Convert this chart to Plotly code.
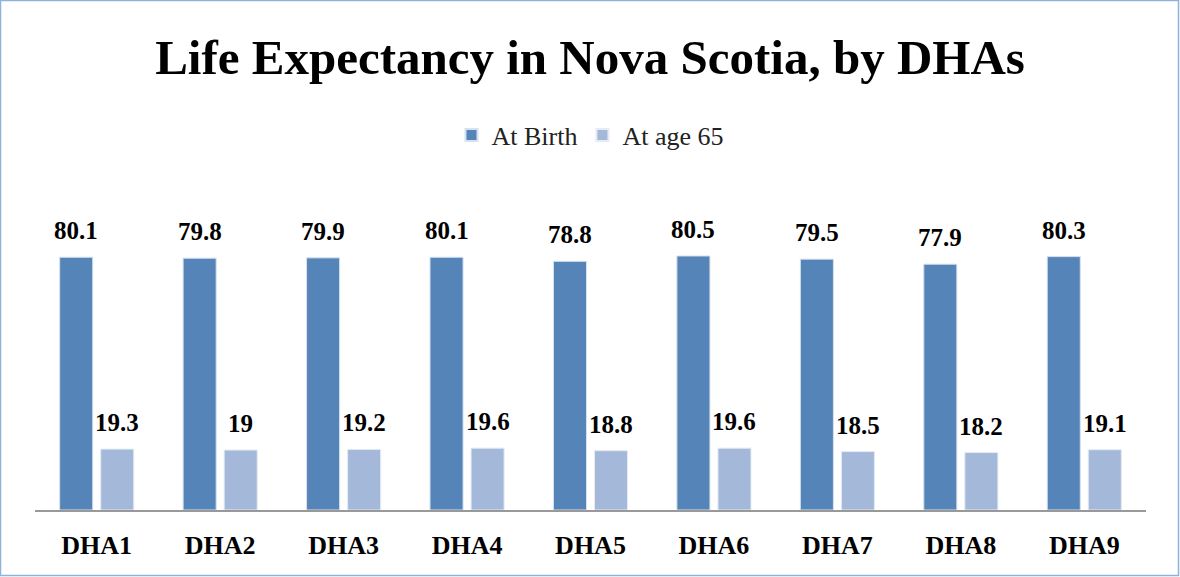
import plotly.graph_objects as go

categories = ["DHA1", "DHA2", "DHA3", "DHA4", "DHA5", "DHA6", "DHA7", "DHA8", "DHA9"]
at_birth = [80.1, 79.8, 79.9, 80.1, 78.8, 80.5, 79.5, 77.9, 80.3]
at_age_65 = [19.3, 19, 19.2, 19.6, 18.8, 19.6, 18.5, 18.2, 19.1]
series_names = ["At Birth", "At age 65"]

W, H = 1180, 577
L, R, T, B = 35, 34, 226, 67  # plot area: x 35..1146, y 226..510

fig = go.Figure()
fig.add_trace(go.Bar(
    x=categories, y=at_birth, name=series_names[0],
    marker=dict(color="#5585B8", line=dict(color="#D6E1EE", width=1)),
    hoverinfo="x+y",
))
fig.add_trace(go.Bar(
    x=categories, y=at_age_65, name=series_names[1],
    marker=dict(color="#A4B8D9", line=dict(color="#E4EBF4", width=1)),
    hoverinfo="x+y",
))

label_font = dict(family="Liberation Serif, Times New Roman, serif", size=25, color="#000000")
annotations = []
for cat, v1, v2 in zip(categories, at_birth, at_age_65):
    annotations.append(dict(x=cat, y=v1, xref="x", yref="y", text=f"<b>{v1:g}</b>", showarrow=False,
                            xshift=-20.5, yshift=11, yanchor="bottom", font=label_font))
    annotations.append(dict(x=cat, y=v2, xref="x", yref="y", text=f"<b>{v2:g}</b>", showarrow=False,
                            xshift=20.5, yshift=11, yanchor="bottom", font=label_font))

pw = W - L - R
ph = H - T - B
fig.update_layout(
    width=W, height=H,
    margin=dict(l=L, r=R, t=T, b=B),
    paper_bgcolor="white", plot_bgcolor="white",
    barmode="group", bargap=0.335, bargroupgap=0.195,
    title=dict(text="<b>Life Expectancy in Nova Scotia, by DHAs</b>",
               font=dict(family="Liberation Serif, Times New Roman, serif", size=49, color="#000000"),
               x=0.5, xanchor="center", y=1 - 57 / H, yanchor="middle"),
    legend=dict(orientation="h", x=0.5, xanchor="center", xref="paper",
                y=1 + (T - 135) / ph, yanchor="middle",
                font=dict(family="Liberation Serif, Times New Roman, serif", size=26, color="#222222"),
                itemwidth=30, itemsizing="constant", traceorder="normal"),
    xaxis=dict(showline=True, linecolor="#999999", linewidth=2,
               ticks="outside", ticklen=11, tickcolor="rgba(0,0,0,0)",
               tickfont=dict(family="Liberation Serif, Times New Roman, serif", size=26, color="#000000"),
               tickprefix="<b>", ticksuffix="</b>", showgrid=False, zeroline=False,
               fixedrange=True),
    yaxis=dict(range=[0, 90], visible=False, showgrid=False, zeroline=False, fixedrange=True),
    annotations=annotations,
    showlegend=True,
)

# outer chart border
fig.add_shape(type="rect", xref="paper", yref="paper",
              x0=(0.5 - L) / pw, x1=(W - 1.5 - L) / pw,
              y0=-(B - 1.5) / ph, y1=1 + (T - 0.5) / ph,
              line=dict(color="#8FB4DC", width=1.5), fillcolor="rgba(0,0,0,0)", layer="below")

fig.write_html("out.html", config={"displayModeBar": False},
               post_script="document.body.style.margin='0';")
